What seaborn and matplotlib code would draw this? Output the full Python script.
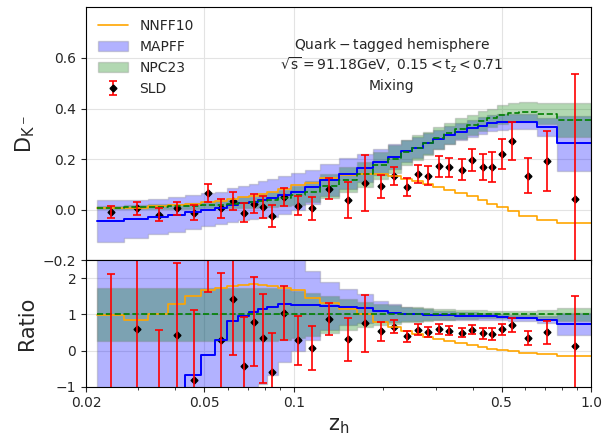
import numpy as np
import matplotlib
matplotlib.use("Agg")
import matplotlib.pyplot as plt
import seaborn as sns
from matplotlib.lines import Line2D
from matplotlib.patches import Patch

# ---- data ----
bin_edges = [0.0217, 0.0268, 0.0323, 0.0378, 0.0432, 0.0487, 0.0542, 0.0596, 0.0650, 0.0705,
             0.0761, 0.0815, 0.0885, 0.0982, 0.1091, 0.1228, 0.1415, 0.1629, 0.1847, 0.2068,
             0.2287, 0.2508, 0.2727, 0.2949, 0.3195, 0.3496, 0.3824, 0.4154, 0.4484, 0.4830,
             0.524, 0.571, 0.657, 0.767, 1.0]

sld_z = [0.0242, 0.0297, 0.0351, 0.0406, 0.0461, 0.0516, 0.0569, 0.0623, 0.0679, 0.0733,
         0.0788, 0.0843, 0.0930, 0.1036, 0.1149, 0.1311, 0.1526, 0.1737, 0.1962, 0.218,
         0.240, 0.262, 0.284, 0.307, 0.333, 0.367, 0.399, 0.432, 0.465, 0.502,
         0.544, 0.614, 0.713, 0.884]
sld_val = [-0.009, 0.006, -0.019, 0.0055, -0.012, 0.065, 0.006, 0.033, -0.012, 0.024,
           0.012, -0.024, 0.049, 0.016, 0.005, 0.083, 0.037, 0.106, 0.093, 0.134,
           0.090, 0.142, 0.135, 0.171, 0.168, 0.159, 0.196, 0.168, 0.168, 0.221,
           0.272, 0.135, 0.193, 0.041]
sld_err = [0.025, 0.025, 0.026, 0.026, 0.029, 0.036, 0.037, 0.036, 0.038, 0.037,
           0.043, 0.044, 0.035, 0.038, 0.044, 0.042, 0.071, 0.111, 0.046, 0.036,
           0.036, 0.036, 0.038, 0.042, 0.037, 0.042, 0.044, 0.051, 0.060, 0.060,
           0.075, 0.070, 0.119, 0.495]

nnff10 = [0.0074, 0.0086, 0.0128, 0.0168, 0.0225, 0.030, 0.0346, 0.041, 0.051, 0.055,
          0.064, 0.072, 0.082, 0.096, 0.104, 0.125, 0.138, 0.142, 0.140, 0.134,
          0.122, 0.112, 0.100, 0.090, 0.078, 0.066, 0.053, 0.037, 0.021, 0.010,
          -0.006, -0.023, -0.039, -0.053]

mapff = [-0.045, -0.035, -0.027, -0.019, -0.010, -0.002, 0.006, 0.019, 0.027, 0.032,
         0.040, 0.048, 0.060, 0.072, 0.090, 0.117, 0.143, 0.164, 0.190, 0.210,
         0.232, 0.245, 0.262, 0.278, 0.294, 0.309, 0.322, 0.333, 0.342, 0.347,
         0.348, 0.348, 0.326, 0.262]
mapff_hi = [0.037, 0.038, 0.041, 0.050, 0.058, 0.065, 0.071, 0.085, 0.095, 0.102,
            0.112, 0.123, 0.135, 0.144, 0.158, 0.181, 0.203, 0.220, 0.242, 0.258,
            0.277, 0.287, 0.302, 0.316, 0.330, 0.344, 0.356, 0.366, 0.374, 0.377,
            0.378, 0.378, 0.361, 0.372]
mapff_lo = [-0.129, -0.111, -0.098, -0.090, -0.076, -0.065, -0.056, -0.047, -0.041, -0.038,
            -0.032, -0.027, -0.015, 0.000, 0.022, 0.053, 0.083, 0.108, 0.138, 0.162,
            0.187, 0.203, 0.222, 0.240, 0.258, 0.274, 0.288, 0.300, 0.310, 0.317,
            0.318, 0.318, 0.291, 0.152]

npc23 = [0.0075, 0.010, 0.0125, 0.013, 0.015, 0.018, 0.020, 0.023, 0.028, 0.030,
         0.035, 0.040, 0.047, 0.057, 0.072, 0.095, 0.119, 0.140, 0.175, 0.202,
         0.227, 0.245, 0.263, 0.285, 0.302, 0.320, 0.336, 0.352, 0.362, 0.376,
         0.383, 0.386, 0.380, 0.355]
npc23_hi = [0.0130, 0.0173, 0.0216, 0.0225, 0.0260, 0.0311, 0.0346, 0.0398, 0.0484, 0.0519,
            0.0606, 0.0692, 0.0799, 0.0941, 0.1152, 0.1425, 0.169, 0.190, 0.228, 0.257,
            0.277, 0.294, 0.308, 0.328, 0.344, 0.362, 0.376, 0.391, 0.398, 0.414,
            0.421, 0.425, 0.422, 0.422]
npc23_lo = [0.0020, 0.0027, 0.0034, 0.0035, 0.0041, 0.0049, 0.0054, 0.0062, 0.0076, 0.0081,
            0.0095, 0.0108, 0.0141, 0.0200, 0.0288, 0.0475, 0.069, 0.090, 0.123, 0.147,
            0.177, 0.196, 0.218, 0.242, 0.260, 0.278, 0.296, 0.313, 0.326, 0.338,
            0.345, 0.347, 0.338, 0.288]

plt.rcParams["mathtext.default"] = "regular"
sns.set_style("ticks")
plt.rcParams["font.family"] = ["DejaVu Sans"]
plt.rcParams["xtick.labelsize"] = 10
plt.rcParams["ytick.labelsize"] = 10


def stairs_y(vals):
    # repeat last value so steps-post closes the last bin
    v = list(vals)
    return np.array(v + [v[-1]], dtype=float)


edges = np.array(bin_edges)
npc = np.array(npc23)

fig, (ax, axr) = plt.subplots(2, 1, figsize=(6.16, 4.36), dpi=100, sharex=True,
                              gridspec_kw={"height_ratios": [2, 1], "hspace": 0})
fig.subplots_adjust(left=0.1396, right=0.9594, top=0.983, bottom=0.113)


def draw_panel(a, scale):
    a.fill_between(edges, stairs_y(np.array(mapff_lo) / scale), stairs_y(np.array(mapff_hi) / scale),
                   step="post", facecolor="blue", alpha=0.3, edgecolor="grey", linewidth=1)
    a.fill_between(edges, stairs_y(np.array(npc23_lo) / scale), stairs_y(np.array(npc23_hi) / scale),
                   step="post", facecolor="green", alpha=0.3, edgecolor="grey", linewidth=1)
    sns.lineplot(x=edges, y=stairs_y(np.array(nnff10) / scale), ax=a, drawstyle="steps-post",
                 color="orange", linewidth=1.2, estimator=None, sort=False)
    sns.lineplot(x=edges, y=stairs_y(np.array(mapff) / scale), ax=a, drawstyle="steps-post",
                 color="blue", linewidth=1.4, estimator=None, sort=False)
    sns.lineplot(x=edges, y=stairs_y(npc / scale), ax=a, drawstyle="steps-post",
                 color="green", linewidth=1.2, linestyle="--", estimator=None, sort=False)
    a.errorbar(sld_z, np.array(sld_val) / scale, yerr=np.array(sld_err) / scale, fmt="D",
               color="black", markersize=3.5, ecolor="red", elinewidth=1.2, capsize=3,
               capthick=1.2, barsabove=True)
    a.grid(True, color="#e3e3e3", linewidth=0.8)
    a.set_axisbelow(True)
    for s in a.spines.values():
        s.set_color("black")


draw_panel(ax, 1.0)
draw_panel(axr, npc)

ax.set_xscale("log")
ax.set_xlim(0.02, 1.0)
ax.set_ylim(-0.2, 0.8)
ax.set_yticks([-0.2, 0.0, 0.2, 0.4, 0.6])
ax.set_ylabel(r"$D_{K^-}$", fontsize=15)
axr.set_ylim(-1, 2.5)
axr.set_yticks([-1, 0, 1, 2])
axr.set_ylabel("Ratio", fontsize=15)
axr.set_xlabel(r"$z_h$", fontsize=15)
axr.set_xticks([0.02, 0.05, 0.1, 0.5, 1.0])
axr.set_xticklabels(["0.02", "0.05", "0.1", "0.5", "1.0"])
fig.align_ylabels([ax, axr])

ax.text(0.605, 0.85, r"$Quark-tagged\ hemisphere$", transform=ax.transAxes,
        ha="center", va="center", fontsize=10)
ax.text(0.605, 0.77, r"$\sqrt{s}=91.18GeV,\ 0.15<t_z<0.71$", transform=ax.transAxes,
        ha="center", va="center", fontsize=10)
ax.text(0.605, 0.69, "Mixing", transform=ax.transAxes, ha="center", va="center", fontsize=10)

handles = [
    Line2D([], [], color="orange", linewidth=1.2),
    Patch(facecolor=(0, 0, 1, 0.3), edgecolor=(0.5, 0.5, 0.5, 0.3)),
    Patch(facecolor=(0, 0.5, 0, 0.3), edgecolor=(0.5, 0.5, 0.5, 0.3)),
    ax.containers[-1],
]
ax.legend(handles, ["NNFF10", "MAPFF", "NPC23", "SLD"], loc="upper left", frameon=False,
          fontsize=10, handlelength=2.2, borderaxespad=0.45)

plt.savefig("out.png", dpi=100)
plt.close()
